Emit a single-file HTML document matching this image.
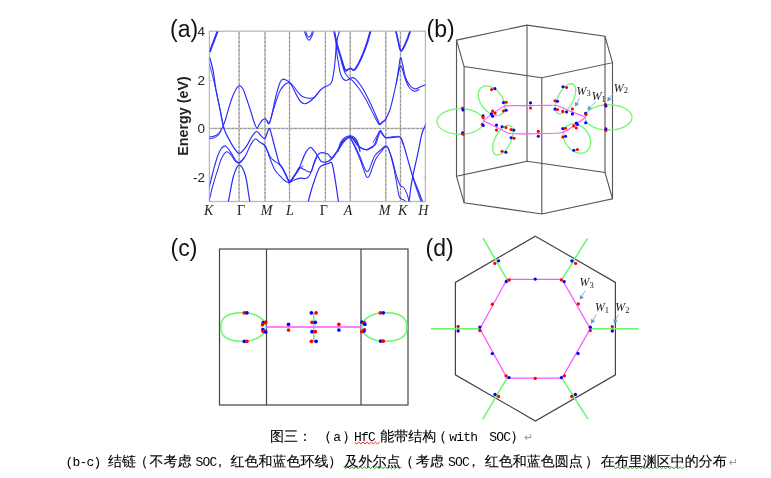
<!DOCTYPE html><html><head><meta charset="utf-8"><style>
html,body{margin:0;padding:0;background:#fff;}
body{width:771px;height:478px;overflow:hidden;position:relative;}
svg{position:absolute;left:0;top:0;}
.g0{stroke:#c0c0c0;stroke-width:1.5;}
.g{stroke:#8e8e8e;stroke-width:1;stroke-dasharray:2 2.2;}
.tl{font:13.5px "Liberation Sans",sans-serif;text-anchor:end;fill:#222;}
.yl{font:bold 14.3px "Liberation Sans",sans-serif;text-anchor:middle;fill:#222;}
.xli{font:italic 14px "Liberation Serif",serif;text-anchor:middle;fill:#222;}
.xlr{font:14px "Liberation Serif",serif;text-anchor:middle;fill:#222;}
.w{font:italic 11.8px "Liberation Serif",serif;fill:#1a1a1a;}
.ws{font-style:normal;font-size:8.5px;}
.pl{font:23px "Liberation Sans",sans-serif;fill:#111;}
.cc,.cm,.ca{position:absolute;white-space:nowrap;line-height:1;color:#000;}
.cc{font-family:"Liberation Sans","WenQuanYi Zen Hei",sans-serif;font-size:14px;-webkit-text-stroke:0.12px #000;}
.cm{font-family:"Liberation Mono",monospace;font-size:13px;letter-spacing:-0.8px;}
.ca{font-family:"DejaVu Sans",sans-serif;font-size:11px;color:#999;}
</style></head><body>
<svg width="771" height="478" viewBox="0 0 771 478">
<defs><clipPath id="ca"><rect x="209.5" y="31.5" width="216.0" height="170.0"/></clipPath></defs>
<line x1="239.1" y1="31.5" x2="239.1" y2="201.5" class="g0"/>
<line x1="239.1" y1="32.5" x2="239.1" y2="201.5" class="g"/>
<line x1="265" y1="31.5" x2="265" y2="201.5" class="g0"/>
<line x1="265" y1="32.5" x2="265" y2="201.5" class="g"/>
<line x1="289.5" y1="31.5" x2="289.5" y2="201.5" class="g0"/>
<line x1="289.5" y1="32.5" x2="289.5" y2="201.5" class="g"/>
<line x1="325.4" y1="31.5" x2="325.4" y2="201.5" class="g0"/>
<line x1="325.4" y1="32.5" x2="325.4" y2="201.5" class="g"/>
<line x1="350.2" y1="31.5" x2="350.2" y2="201.5" class="g0"/>
<line x1="350.2" y1="32.5" x2="350.2" y2="201.5" class="g"/>
<line x1="385.8" y1="31.5" x2="385.8" y2="201.5" class="g0"/>
<line x1="385.8" y1="32.5" x2="385.8" y2="201.5" class="g"/>
<line x1="400.5" y1="31.5" x2="400.5" y2="201.5" class="g0"/>
<line x1="400.5" y1="32.5" x2="400.5" y2="201.5" class="g"/>
<line x1="209.5" y1="128.4" x2="425.5" y2="128.4" class="g0"/>
<line x1="210.5" y1="128.4" x2="425.5" y2="128.4" class="g"/>
<rect x="209.4" y="31.2" width="216.0" height="170.3" fill="none" stroke="#bababa" stroke-width="1.3"/>
<line x1="209.5" y1="31.5" x2="211.5" y2="31.5" stroke="#bbb"/>
<line x1="425.5" y1="31.5" x2="423.5" y2="31.5" stroke="#bbb"/>
<line x1="209.5" y1="80.5" x2="211.5" y2="80.5" stroke="#bbb"/>
<line x1="425.5" y1="80.5" x2="423.5" y2="80.5" stroke="#bbb"/>
<line x1="209.5" y1="128.5" x2="211.5" y2="128.5" stroke="#bbb"/>
<line x1="425.5" y1="128.5" x2="423.5" y2="128.5" stroke="#bbb"/>
<line x1="209.5" y1="177.5" x2="211.5" y2="177.5" stroke="#bbb"/>
<line x1="425.5" y1="177.5" x2="423.5" y2="177.5" stroke="#bbb"/>
<g clip-path="url(#ca)" fill="none" stroke="#2a2aff" stroke-linejoin="round" stroke-linecap="round">
<path d="M209.5,51.4C209.85,50.43 210.88,47.5 211.6,45.6C212.32,43.7 213.15,41.68 213.8,40C214.45,38.32 214.93,37 215.5,35.5C216.07,34 216.73,32.25 217.2,31C217.67,29.75 218.12,28.5 218.3,28" stroke-width="1.21"/>
<path d="M210.3,51.7C210.65,50.73 211.68,47.8 212.4,45.9C213.12,44 213.95,41.98 214.6,40.3C215.25,38.62 215.73,37.3 216.3,35.8C216.87,34.3 217.53,32.55 218,31.3C218.47,30.05 218.92,28.8 219.1,28.3" stroke-width="1.21"/>
<path d="M209.6,57.3C210.02,58.83 211.45,63.88 212.1,66.5C212.75,69.12 212.85,69.08 213.5,73C214.15,76.92 214.9,83.83 216,90C217.1,96.17 218.9,104.05 220.1,110C221.3,115.95 222.22,121.78 223.2,125.7C224.18,129.62 225.07,131.3 226,133.5C226.93,135.7 227.48,136.53 228.8,138.9C230.12,141.27 232.13,145.3 233.9,147.7C235.67,150.1 237.32,153.52 239.4,153.3C241.48,153.08 244.47,148.95 246.4,146.4C248.33,143.85 249.32,140.48 251,138C252.68,135.52 254.75,131.77 256.5,131.5C258.25,131.23 260.1,135.25 261.5,136.4C262.9,137.55 263.9,139.13 264.9,138.4C265.9,137.67 266.73,133.67 267.5,132C268.27,130.33 268.82,127.9 269.5,128.4C270.18,128.9 270.57,131.28 271.6,135C272.63,138.72 274.42,146 275.7,150.7C276.98,155.4 278.25,160.42 279.3,163.2C280.35,165.98 280.87,165.3 282,167.4C283.13,169.5 284.83,173.38 286.1,175.8C287.37,178.22 288.2,181.87 289.6,181.9C291,181.93 292.88,178.35 294.5,176C296.12,173.65 297.57,171.45 299.3,167.8C301.03,164.15 303.1,157.48 304.9,154.1C306.7,150.72 308.68,148.2 310.1,147.5C311.52,146.8 312.22,148.63 313.4,149.9C314.58,151.17 315.95,153.22 317.2,155.1C318.45,156.98 319.5,160.03 320.9,161.2C322.3,162.37 324.02,162.33 325.6,162.1C327.18,161.87 328.52,161.6 330.4,159.8C332.28,158 334.8,154.27 336.9,151.3C339,148.33 340.92,144.47 343,142C345.08,139.53 347.73,137 349.4,136.5C351.07,136 351.53,137.42 353,139C354.47,140.58 356.12,144.23 358.2,146C360.28,147.77 363.53,149.27 365.5,149.6C367.47,149.93 368.48,148.85 370,148C371.52,147.15 373.35,146.42 374.6,144.5C375.85,142.58 376.58,138.82 377.5,136.5C378.42,134.18 379.18,130.93 380.1,130.6C381.02,130.27 382.03,133.32 383,134.5C383.97,135.68 384.23,137.23 385.9,137.7C387.57,138.17 390.73,137.42 393,137.3C395.27,137.18 398.03,136.63 399.5,137C400.97,137.37 401.05,138 401.8,139.5C402.55,141 403.18,143.32 404,146C404.82,148.68 405.73,152.18 406.7,155.6C407.67,159.02 408.8,162.98 409.8,166.5C410.8,170.02 411.75,173.53 412.7,176.7C413.65,179.87 414.53,182.62 415.5,185.5C416.47,188.38 417.58,191.42 418.5,194C419.42,196.58 420.25,198.83 421,201C421.75,203.17 422.67,206 423,207" stroke-width="1.21"/>
<path d="M209.3,64.2C209.35,64.37 209.42,64.65 209.6,65.2C209.78,65.75 209.97,65.95 210.4,67.5C210.83,69.05 211.52,71.75 212.2,74.5C212.88,77.25 213.7,80.58 214.5,84C215.3,87.42 216.03,90.58 217,95C217.97,99.42 219.3,105.58 220.3,110.5C221.3,115.42 222.55,122.17 223,124.5" stroke-width="0.93"/>
<path d="M331.2,160.1C332.28,158.68 335.6,154.57 337.7,151.6C339.8,148.63 341.72,144.77 343.8,142.3C345.88,139.83 348.53,137.3 350.2,136.8C351.87,136.3 352.33,137.72 353.8,139.3C355.27,140.88 356.92,144.53 359,146.3C361.08,148.07 364.33,149.57 366.3,149.9C368.27,150.23 369.28,149.15 370.8,148.3C372.32,147.45 374.15,146.72 375.4,144.8C376.65,142.88 377.38,139.12 378.3,136.8C379.22,134.48 380.47,131.88 380.9,130.9" stroke-width="0.93"/>
<path d="M207,137.3C207.42,137.25 208.5,137.13 209.5,137C210.5,136.87 211.65,136.92 213,136.5C214.35,136.08 216.27,135.58 217.6,134.5C218.93,133.42 220.07,131.47 221,130C221.93,128.53 222.37,127.7 223.2,125.7C224.03,123.7 225.17,120.62 226,118C226.83,115.38 227.2,113.33 228.2,110C229.2,106.67 230.7,101.47 232,98C233.3,94.53 234.77,91.23 236,89.2C237.23,87.17 238.23,85.83 239.4,85.8C240.57,85.77 241.73,86.63 243,89C244.27,91.37 245.67,96.17 247,100C248.33,103.83 249.83,108.33 251,112C252.17,115.67 253.02,119.3 254,122C254.98,124.7 256.07,127.7 256.9,128.2C257.73,128.7 258.15,126.28 259,125C259.85,123.72 261.02,121.52 262,120.5C262.98,119.48 264.07,118.9 264.9,118.9C265.73,118.9 266.28,119.75 267,120.5C267.72,121.25 268.37,124.48 269.2,123.4C270.03,122.32 271.03,117.9 272,114C272.97,110.1 274,104.25 275,100C276,95.75 277.08,91.58 278,88.5C278.92,85.42 279.7,83.05 280.5,81.5C281.3,79.95 281.97,79.48 282.8,79.2C283.63,78.92 284.37,79.28 285.5,79.8C286.63,80.32 288.35,80.93 289.6,82.3C290.85,83.67 291.77,85.72 293,88C294.23,90.28 295.75,93.75 297,96C298.25,98.25 299.25,100.2 300.5,101.5C301.75,102.8 303.08,103.72 304.5,103.8C305.92,103.88 307.38,103.05 309,102C310.62,100.95 312.37,99.42 314.2,97.5C316.03,95.58 318.37,92.22 320,90.5C321.63,88.78 322.75,87.98 324,87.2C325.25,86.42 326.5,86.3 327.5,85.8C328.5,85.3 329.27,84.93 330,84.2C330.73,83.47 331.35,82.93 331.9,81.4C332.45,79.87 332.88,77.3 333.3,75C333.72,72.7 334.03,70.77 334.4,67.6C334.77,64.43 335.18,59.77 335.5,56C335.82,52.23 335.92,48.17 336.3,45C336.68,41.83 337.28,39.33 337.8,37C338.32,34.67 338.95,32.83 339.4,31C339.85,29.17 340.32,26.83 340.5,26" stroke-width="1.12"/>
<path d="M207,139C207.42,138.97 208.5,138.93 209.5,138.8C210.5,138.67 211.65,138.67 213,138.2C214.35,137.73 216.27,137.2 217.6,136C218.93,134.8 220.43,131.83 221,131" stroke-width="0.93"/>
<path d="M267,121C267.37,121.4 268.28,124.73 269.2,123.4C270.12,122.07 271.28,116.9 272.5,113C273.72,109.1 275.17,103.83 276.5,100C277.83,96.17 279.08,92.58 280.5,90C281.92,87.42 283.53,85.75 285,84.5C286.47,83.25 287.97,82.33 289.3,82.5C290.63,82.67 291.72,84.08 293,85.5C294.28,86.92 295.67,89.33 297,91C298.33,92.67 299.67,94.4 301,95.5C302.33,96.6 303.57,97.15 305,97.6C306.43,98.05 308.07,98.22 309.6,98.2C311.13,98.18 312.8,98.37 314.2,97.5C315.6,96.63 317.37,93.75 318,93" stroke-width="1.02"/>
<path d="M207,194C207.42,192.7 208.5,189.87 209.5,186.2C210.5,182.53 211.75,176.7 213,172C214.25,167.3 215.67,161.83 217,158C218.33,154.17 219.58,151 221,149C222.42,147 223.98,145.6 225.5,146C227.02,146.4 228.38,148.98 230.1,151.4C231.82,153.82 234.25,158.68 235.8,160.5C237.35,162.32 237.83,162.98 239.4,162.3C240.97,161.62 243.43,159.12 245.2,156.4C246.97,153.68 248.33,148.9 250,146C251.67,143.1 253.53,139.62 255.2,139C256.87,138.38 258.42,141.23 260,142.3C261.58,143.37 263.48,144 264.7,145.4C265.92,146.8 266.35,148.77 267.3,150.7C268.25,152.63 269.18,155.27 270.4,157C271.62,158.73 273.12,159.88 274.6,161.1C276.08,162.32 277.98,163.08 279.3,164.3C280.62,165.52 281.37,166.67 282.5,168.4C283.63,170.13 284.92,172.45 286.1,174.7C287.28,176.95 288.28,181.02 289.6,181.9C290.92,182.78 292.23,180.63 294,180C295.77,179.37 298.38,178.33 300.2,178.1C302.02,177.87 303.57,178.75 304.9,178.6C306.23,178.45 307.1,178.45 308.2,177.2C309.3,175.95 310.53,173.47 311.5,171.1C312.47,168.73 313.05,165.6 314,163C314.95,160.4 316.05,157.22 317.2,155.5C318.35,153.78 319.5,153.08 320.9,152.7C322.3,152.32 324.33,152.88 325.6,153.2C326.87,153.52 327.55,153.82 328.5,154.6C329.45,155.38 330.38,157.67 331.3,157.9C332.22,158.13 333.55,156.32 334,156" stroke-width="1.12"/>
<path d="M262,143.5C262.45,143.82 263.78,144.15 264.7,145.4C265.62,146.65 266.72,149.07 267.5,151C268.28,152.93 268.73,155.08 269.4,157C270.07,158.92 270.8,160.77 271.5,162.5C272.2,164.23 272.85,165.9 273.6,167.4C274.35,168.9 275.13,170.28 276,171.5C276.87,172.72 277.88,173.7 278.8,174.7C279.72,175.7 280.63,176.62 281.5,177.5C282.37,178.38 283.17,179.3 284,180C284.83,180.7 285.72,181.28 286.5,181.7C287.28,182.12 288.03,182.45 288.7,182.5C289.37,182.55 290.2,182.08 290.5,182" stroke-width="1.02"/>
<path d="M208,205C208.25,204.07 208.67,202.73 209.5,199.4C210.33,196.07 211.65,189.9 213,185C214.35,180.1 216.18,174.42 217.6,170C219.02,165.58 220.02,161.53 221.5,158.5C222.98,155.47 224.92,152.38 226.5,151.8C228.08,151.22 229.5,153.38 231,155C232.5,156.62 234.1,160.12 235.5,161.5C236.9,162.88 237.98,163.88 239.4,163.3C240.82,162.72 243.23,158.88 244,158" stroke-width="1.02"/>
<path d="M289.6,181.9C290.42,180.75 292.88,177.35 294.5,175C296.12,172.65 297.72,168.7 299.3,167.8C300.88,166.9 302.12,168.9 304,169.6C305.88,170.3 309.03,172.7 310.6,172C312.17,171.3 312.3,168.07 313.4,165.4C314.5,162.73 316.57,157.57 317.2,156" stroke-width="1.02"/>
<path d="M288.5,183C288.78,182.87 289.12,183.45 290.2,182.2C291.28,180.95 293.4,177.73 295,175.5C296.6,173.27 298.47,170.38 299.8,168.8C301.13,167.22 302.47,166.47 303,166" stroke-width="0.93"/>
<path d="M225,215C225.57,212.67 227.07,207.17 228.4,201C229.73,194.83 231.65,183.5 233,178C234.35,172.5 235.43,170.13 236.5,168C237.57,165.87 238.4,165.2 239.4,165.2C240.4,165.2 241.4,165.87 242.5,168C243.6,170.13 244.8,172.5 246,178C247.2,183.5 248.7,195.33 249.7,201C250.7,206.67 251.62,210.17 252,212" stroke-width="1.21"/>
<path d="M305,215C305.57,212.67 307.08,206 308.4,201C309.72,196 311.12,190.47 312.9,185C314.68,179.53 317.28,171.55 319.1,168.2C320.92,164.85 322.23,165.68 323.8,164.9C325.37,164.12 327.25,163.92 328.5,163.5C329.75,163.08 330.52,161.62 331.3,162.4C332.08,163.18 332.42,164.43 333.2,168.2C333.98,171.97 335.13,179.53 336,185C336.87,190.47 337.73,196.5 338.4,201C339.07,205.5 339.73,210.17 340,212" stroke-width="1.21"/>
<path d="M303.5,26C303.67,26.83 304,29.17 304.5,31C305,32.83 305.75,35.45 306.5,37C307.25,38.55 308.17,40.3 309,40.3C309.83,40.3 310.75,38.55 311.5,37C312.25,35.45 313,32.83 313.5,31C314,29.17 314.33,26.83 314.5,26" stroke-width="1.02"/>
<path d="M303.5,23C303.67,23.83 304,26.17 304.5,28C305,29.83 305.75,32.45 306.5,34C307.25,35.55 308.17,37.3 309,37.3C309.83,37.3 310.75,35.55 311.5,34C312.25,32.45 313,29.83 313.5,28C314,26.17 314.33,23.83 314.5,23" stroke-width="1.02"/>
<path d="M333,26C333.13,26.83 333.23,28.08 333.8,31C334.37,33.92 335.37,39.33 336.4,43.5C337.43,47.67 338.6,51.57 340,56C341.4,60.43 343.55,67.85 344.8,70.1C346.05,72.35 346.63,69.78 347.5,69.5C348.37,69.22 349.25,68.4 350,68.4C350.75,68.4 351.35,69.22 352,69.5C352.65,69.78 352.9,71.02 353.9,70.1C354.9,69.18 356.48,66.85 358,64C359.52,61.15 361.5,56.67 363,53C364.5,49.33 365.82,45.67 367,42C368.18,38.33 369.35,33.67 370.1,31C370.85,28.33 371.27,26.83 371.5,26" stroke-width="1.21"/>
<path d="M333.8,26C333.93,26.83 334.03,28.08 334.6,31C335.17,33.92 336.17,39.33 337.2,43.5C338.23,47.67 339.4,51.57 340.8,56C342.2,60.43 344.35,67.85 345.6,70.1C346.85,72.35 347.43,69.78 348.3,69.5C349.17,69.22 350.05,68.4 350.8,68.4C351.55,68.4 352.15,69.22 352.8,69.5C353.45,69.78 353.7,71.02 354.7,70.1C355.7,69.18 357.28,66.85 358.8,64C360.32,61.15 362.3,56.67 363.8,53C365.3,49.33 366.62,45.67 367.8,42C368.98,38.33 370.15,33.67 370.9,31C371.65,28.33 372.07,26.83 372.3,26" stroke-width="1.12"/>
<path d="M335.8,40C335.88,40.83 336.12,42.7 336.3,45C336.48,47.3 336.53,50.8 336.9,53.8C337.27,56.8 337.95,59.87 338.5,63C339.05,66.13 339.5,70.03 340.2,72.6C340.9,75.17 341.73,77.08 342.7,78.4C343.67,79.72 344.88,80.42 346,80.5C347.12,80.58 348.35,79.38 349.4,78.9C350.45,78.42 351.32,77.6 352.3,77.6C353.28,77.6 353.83,77.5 355.3,78.9C356.77,80.3 359.32,83.42 361.1,86C362.88,88.58 364.43,91.48 366,94.4C367.57,97.32 369,100.32 370.5,103.5C372,106.68 373.75,110.67 375,113.5C376.25,116.33 377.2,118.72 378,120.5C378.8,122.28 379.05,123.98 379.8,124.2C380.55,124.42 381.55,122.63 382.5,121.8C383.45,120.97 384.33,121 385.5,119.2C386.67,117.4 388.33,114.2 389.5,111C390.67,107.8 391.27,105.17 392.5,100C393.73,94.83 395.82,85.67 396.9,80C397.98,74.33 398.38,69.73 399,66C399.62,62.27 400.02,57.93 400.6,57.6C401.18,57.27 401.7,60.72 402.5,64C403.3,67.28 404.23,73.8 405.4,77.3C406.57,80.8 408,83.07 409.5,85C411,86.93 412.82,88.48 414.4,88.9C415.98,89.32 417.27,88.15 419,87.5C420.73,86.85 423.3,85.5 424.8,85C426.3,84.5 427.47,84.58 428,84.5" stroke-width="1.12"/>
<path d="M341,60C341.23,60.87 341.82,63.23 342.4,65.2C342.98,67.17 343.62,69.87 344.5,71.8C345.38,73.73 346.75,75.62 347.7,76.8C348.65,77.98 349.22,78.07 350.2,78.9C351.18,79.73 352.05,80.07 353.6,81.8C355.15,83.53 357.55,86.5 359.5,89.3C361.45,92.1 363.63,95.73 365.3,98.6C366.97,101.47 368.05,103.68 369.5,106.5C370.95,109.32 372.67,112.92 374,115.5C375.33,118.08 376.57,120.45 377.5,122C378.43,123.55 378.77,124.75 379.6,124.8C380.43,124.85 381.43,123.18 382.5,122.3C383.57,121.42 385.42,119.97 386,119.5" stroke-width="1.02"/>
<path d="M396.2,84C396.5,82.5 397.45,77.58 398,75C398.55,72.42 399.07,70.07 399.5,68.5C399.93,66.93 400.18,65.68 400.6,65.6C401.02,65.52 401.43,66.43 402,68C402.57,69.57 403.25,72.58 404,75C404.75,77.42 405.5,80.25 406.5,82.5C407.5,84.75 408.68,87.03 410,88.5C411.32,89.97 412.9,91.13 414.4,91.3C415.9,91.47 418.23,89.8 419,89.5" stroke-width="1.02"/>
<path d="M394.5,26C394.68,26.83 395.1,28.83 395.6,31C396.1,33.17 396.88,36.25 397.5,39C398.12,41.75 398.78,45.53 399.3,47.5C399.82,49.47 400.12,50.47 400.6,50.8C401.08,51.13 401.55,50.47 402.2,49.5C402.85,48.53 403.65,46.83 404.5,45C405.35,43.17 406.4,40.83 407.3,38.5C408.2,36.17 409.2,33.08 409.9,31C410.6,28.92 411.23,26.83 411.5,26" stroke-width="1.21"/>
<path d="M395.1,26.3C395.28,27.13 395.7,29.13 396.2,31.3C396.7,33.47 397.48,36.55 398.1,39.3C398.72,42.05 399.38,45.83 399.9,47.8C400.42,49.77 400.72,50.77 401.2,51.1C401.68,51.43 402.15,50.77 402.8,49.8C403.45,48.83 404.25,47.13 405.1,45.3C405.95,43.47 407,41.13 407.9,38.8C408.8,36.47 409.8,33.38 410.5,31.3C411.2,29.22 411.83,27.13 412.1,26.3" stroke-width="1.12"/>
<path d="M338,150C338.47,148.67 339.63,144.08 340.8,142C341.97,139.92 343.42,138.53 345,137.5C346.58,136.47 348.72,135.8 350.3,135.8C351.88,135.8 353.28,136.47 354.5,137.5C355.72,138.53 356.68,139.92 357.6,142C358.52,144.08 359.6,148.67 360,150" stroke-width="1.02"/>
<path d="M338,151.6C338.47,150.27 339.63,145.68 340.8,143.6C341.97,141.52 343.42,140.13 345,139.1C346.58,138.07 348.72,137.4 350.3,137.4C351.88,137.4 353.28,138.07 354.5,139.1C355.72,140.13 356.68,141.52 357.6,143.6C358.52,145.68 359.6,150.27 360,151.6" stroke-width="1.02"/>
<path d="M349.4,136.5C350.17,137.75 352.32,140.83 354,144C355.68,147.17 358,152.08 359.5,155.5C361,158.92 362,162.08 363,164.5C364,166.92 364.78,168.82 365.5,170C366.22,171.18 366.67,171.68 367.3,171.6C367.93,171.52 368.52,171.1 369.3,169.5C370.08,167.9 371.05,164.33 372,162C372.95,159.67 373.67,157.42 375,155.5C376.33,153.58 378.1,152.08 380,150.5C381.9,148.92 384.48,144.92 386.4,146C388.32,147.08 389.8,152 391.5,157C393.2,162 395.13,171.25 396.6,176C398.07,180.75 399.08,183.55 400.3,185.5C401.52,187.45 402.8,186.35 403.9,187.7C405,189.05 406.05,191.4 406.9,193.6C407.75,195.8 408.4,198.5 409,200.9C409.6,203.3 410.25,206.82 410.5,208" stroke-width="1.02"/>
<path d="M349.4,136.5C350.33,138.33 353.18,143.58 355,147.5C356.82,151.42 358.83,156.25 360.3,160C361.77,163.75 362.85,167.37 363.8,170C364.75,172.63 365.38,174.55 366,175.8C366.62,177.05 366.95,177.47 367.5,177.5C368.05,177.53 368.5,177.58 369.3,176C370.1,174.42 371.27,170.75 372.3,168C373.33,165.25 374.13,162.08 375.5,159.5C376.87,156.92 378.57,154.63 380.5,152.5C382.43,150.37 385.15,145.22 387.1,146.7C389.05,148.18 390.73,156.03 392.2,161.4C393.67,166.77 394.8,173.3 395.9,178.9C397,184.5 397.95,191.7 398.8,195C399.65,198.3 400.15,197.83 401,198.7C401.85,199.57 402.9,199.48 403.9,200.2C404.9,200.92 406.48,202.53 407,203" stroke-width="1.02"/>
<path d="M407.5,208C407.77,206.83 408.55,204.33 409.1,201C409.65,197.67 410.2,192.05 410.8,188C411.4,183.95 412,180.37 412.7,176.7C413.4,173.03 414.22,169.52 415,166C415.78,162.48 416.68,158.93 417.4,155.6C418.12,152.27 418.72,148.97 419.3,146C419.88,143.03 420.32,140.3 420.9,137.8C421.48,135.3 422.15,132.88 422.8,131C423.45,129.12 424.1,128 424.8,126.5C425.5,125 426.63,122.75 427,122" stroke-width="1.21"/>
<path d="M412.4,175C412.58,175.58 412.77,176.58 413.5,178.5C414.23,180.42 415.73,183.83 416.8,186.5C417.87,189.17 418.95,192 419.9,194.5C420.85,197 421.73,199.42 422.5,201.5C423.27,203.58 424.17,206.08 424.5,207" stroke-width="1.02"/>
<path d="M373,142.5C373.58,141.5 375.32,138.33 376.5,136.5C377.68,134.67 379.02,131.67 380.1,131.5C381.18,131.33 382.03,134.5 383,135.5C383.97,136.5 384.23,137.3 385.9,137.5C387.57,137.7 390.73,136.87 393,136.7C395.27,136.53 398.08,136.03 399.5,136.5C400.92,136.97 400.92,138.17 401.5,139.5C402.08,140.83 402.75,143.67 403,144.5" stroke-width="0.93"/>
</g>
<text x="205" y="36.2" class="tl">4</text>
<text x="205" y="84.7" class="tl">2</text>
<text x="205" y="133.2" class="tl">0</text>
<text x="205" y="181.7" class="tl">-2</text>
<text transform="translate(187.7,116) rotate(-90)" class="yl">Energy (eV)</text>
<text x="208.75" y="215.2" class="xli">K</text>
<text x="241.15" y="215.2" class="xlr">Γ</text>
<text x="266.5" y="215.2" class="xli">M</text>
<text x="290" y="215.2" class="xli">L</text>
<text x="323.9" y="215.2" class="xlr">Γ</text>
<text x="347.95" y="215.2" class="xli">A</text>
<text x="384.6" y="215.2" class="xli">M</text>
<text x="402.7" y="215.2" class="xli">K</text>
<text x="423.25" y="215.2" class="xli">H</text>
<g fill="none" stroke="#555" stroke-width="1.1">
<path d="M456.5,40.1 L527,25.1 L605,36.3 L612.5,62.7 L541.8,77.8 L464.1,66.6Z"/>
<path d="M456.5,176.3 L527,161.3 L605,172.5 L612.5,198.9 L541.8,214 L464.1,202.8Z"/>
<line x1="456.5" y1="40.1" x2="456.5" y2="176.3"/>
<line x1="527" y1="25.1" x2="527" y2="161.3"/>
<line x1="605" y1="36.3" x2="605" y2="172.5"/>
<line x1="612.5" y1="62.7" x2="612.5" y2="198.9"/>
<line x1="541.8" y1="77.8" x2="541.8" y2="214"/>
<line x1="464.1" y1="66.6" x2="464.1" y2="202.8"/>
</g>
<g fill="none" stroke="#6ef76e" stroke-width="1.3">
<path d="M483.6,121.5 L483.51,122.61 L483.25,123.71 L482.81,124.8 L482.19,125.86 L481.42,126.89 L480.48,127.88 L479.39,128.81 L478.15,129.7 L476.78,130.52 L475.28,131.27 L473.66,131.94 L471.95,132.54 L470.15,133.06 L468.27,133.48 L466.33,133.82 L464.35,134.06 L462.33,134.2 L460.3,134.25 L458.27,134.2 L456.25,134.06 L454.27,133.82 L452.33,133.48 L450.45,133.06 L448.65,132.54 L446.94,131.94 L445.32,131.27 L443.82,130.52 L442.45,129.7 L441.21,128.81 L440.12,127.88 L439.18,126.89 L438.41,125.86 L437.79,124.8 L437.35,123.71 L437.09,122.61 L437,121.5 L437.09,120.39 L437.35,119.29 L437.79,118.2 L438.41,117.14 L439.18,116.11 L440.12,115.12 L441.21,114.19 L442.45,113.3 L443.82,112.48 L445.32,111.73 L446.94,111.06 L448.65,110.46 L450.45,109.94 L452.33,109.52 L454.27,109.18 L456.25,108.94 L458.27,108.8 L460.3,108.75 L462.33,108.8 L464.35,108.94 L466.33,109.18 L468.27,109.52 L470.15,109.94 L471.95,110.46 L473.66,111.06 L475.28,111.73 L476.78,112.48 L478.15,113.3 L479.39,114.19 L480.48,115.12 L481.42,116.11 L482.19,117.14 L482.81,118.2 L483.25,119.29 L483.51,120.39Z"/>
<path d="M632,117.4 L631.91,118.5 L631.64,119.59 L631.2,120.66 L630.59,121.71 L629.81,122.72 L628.86,123.7 L627.77,124.63 L626.53,125.5 L625.15,126.31 L623.64,127.05 L622.02,127.72 L620.3,128.31 L618.49,128.82 L616.6,129.24 L614.66,129.57 L612.66,129.81 L610.64,129.95 L608.6,130 L606.56,129.95 L604.54,129.81 L602.54,129.57 L600.6,129.24 L598.71,128.82 L596.9,128.31 L595.18,127.72 L593.56,127.05 L592.05,126.31 L590.67,125.5 L589.43,124.63 L588.34,123.7 L587.39,122.72 L586.61,121.71 L586,120.66 L585.56,119.59 L585.29,118.5 L585.2,117.4 L585.29,116.3 L585.56,115.21 L586,114.14 L586.61,113.09 L587.39,112.08 L588.34,111.1 L589.43,110.17 L590.67,109.3 L592.05,108.49 L593.56,107.75 L595.18,107.08 L596.9,106.49 L598.71,105.98 L600.6,105.56 L602.54,105.23 L604.54,104.99 L606.56,104.85 L608.6,104.8 L610.64,104.85 L612.66,104.99 L614.66,105.23 L616.6,105.56 L618.49,105.98 L620.3,106.49 L622.02,107.08 L623.64,107.75 L625.15,108.49 L626.53,109.3 L627.77,110.17 L628.86,111.1 L629.81,112.08 L630.59,113.09 L631.2,114.14 L631.64,115.21 L631.91,116.3Z"/>
<path d="M501.89,113.87 L501.11,114.4 L500.25,114.82 L499.33,115.14 L498.36,115.35 L497.33,115.44 L496.25,115.43 L495.15,115.3 L494.01,115.06 L492.86,114.71 L491.69,114.26 L490.53,113.7 L489.38,113.04 L488.24,112.29 L487.12,111.45 L486.04,110.53 L485.01,109.53 L484.02,108.47 L483.09,107.35 L482.23,106.17 L481.43,104.96 L480.72,103.71 L480.09,102.44 L479.54,101.16 L479.09,99.87 L478.73,98.59 L478.47,97.33 L478.31,96.09 L478.25,94.89 L478.29,93.73 L478.44,92.62 L478.68,91.58 L479.02,90.6 L479.46,89.7 L479.99,88.89 L480.61,88.16 L481.31,87.53 L482.09,87 L482.95,86.58 L483.87,86.26 L484.84,86.05 L485.87,85.96 L486.95,85.97 L488.05,86.1 L489.19,86.34 L490.34,86.69 L491.51,87.14 L492.67,87.7 L493.82,88.36 L494.96,89.11 L496.08,89.95 L497.16,90.87 L498.19,91.87 L499.18,92.93 L500.11,94.05 L500.97,95.23 L501.77,96.44 L502.48,97.69 L503.11,98.96 L503.66,100.24 L504.11,101.53 L504.47,102.81 L504.73,104.07 L504.89,105.31 L504.95,106.51 L504.91,107.67 L504.76,108.78 L504.52,109.82 L504.18,110.8 L503.74,111.7 L503.21,112.51 L502.59,113.24Z"/>
<path d="M572.96,84.11 L573.53,84.48 L574.04,84.95 L574.49,85.52 L574.86,86.2 L575.17,86.97 L575.4,87.83 L575.56,88.77 L575.64,89.79 L575.64,90.88 L575.57,92.03 L575.42,93.23 L575.19,94.47 L574.89,95.74 L574.52,97.04 L574.08,98.35 L573.58,99.66 L573.01,100.97 L572.39,102.26 L571.71,103.52 L570.99,104.75 L570.22,105.93 L569.42,107.05 L568.59,108.11 L567.73,109.11 L566.86,110.02 L565.98,110.85 L565.1,111.58 L564.21,112.22 L563.34,112.75 L562.48,113.18 L561.65,113.5 L560.85,113.7 L560.08,113.79 L559.35,113.77 L558.67,113.64 L558.04,113.39 L557.47,113.02 L556.96,112.55 L556.51,111.98 L556.14,111.3 L555.83,110.53 L555.6,109.67 L555.44,108.73 L555.36,107.71 L555.36,106.62 L555.43,105.47 L555.58,104.27 L555.81,103.03 L556.11,101.76 L556.48,100.46 L556.92,99.15 L557.42,97.84 L557.99,96.53 L558.61,95.24 L559.29,93.98 L560.01,92.75 L560.78,91.57 L561.58,90.45 L562.41,89.39 L563.27,88.39 L564.14,87.48 L565.02,86.65 L565.9,85.92 L566.79,85.28 L567.66,84.75 L568.52,84.32 L569.35,84 L570.15,83.8 L570.92,83.71 L571.65,83.73 L572.33,83.86Z"/>
<path d="M510.17,125.84 L510.75,126.21 L511.28,126.68 L511.74,127.26 L512.13,127.93 L512.45,128.7 L512.7,129.56 L512.88,130.49 L512.98,131.5 L513,132.58 L512.94,133.72 L512.81,134.9 L512.6,136.12 L512.32,137.38 L511.96,138.66 L511.54,139.95 L511.05,141.24 L510.5,142.52 L509.89,143.78 L509.22,145.02 L508.51,146.22 L507.75,147.38 L506.96,148.48 L506.13,149.52 L505.28,150.48 L504.42,151.37 L503.54,152.18 L502.65,152.89 L501.77,153.5 L500.89,154.02 L500.03,154.43 L499.19,154.73 L498.38,154.92 L497.6,155 L496.87,154.96 L496.17,154.82 L495.53,154.56 L494.95,154.19 L494.42,153.72 L493.96,153.14 L493.57,152.47 L493.25,151.7 L493,150.84 L492.82,149.91 L492.72,148.9 L492.7,147.82 L492.76,146.68 L492.89,145.5 L493.1,144.28 L493.38,143.02 L493.74,141.74 L494.16,140.45 L494.65,139.16 L495.2,137.88 L495.81,136.62 L496.48,135.38 L497.19,134.18 L497.95,133.02 L498.74,131.92 L499.57,130.88 L500.42,129.92 L501.28,129.03 L502.16,128.22 L503.05,127.51 L503.93,126.9 L504.81,126.38 L505.67,125.97 L506.51,125.67 L507.32,125.48 L508.1,125.4 L508.83,125.44 L509.53,125.58Z"/>
<path d="M586.87,151.13 L586,151.73 L585.07,152.23 L584.07,152.62 L583.02,152.91 L581.92,153.08 L580.79,153.15 L579.63,153.1 L578.45,152.95 L577.26,152.68 L576.06,152.31 L574.87,151.83 L573.7,151.25 L572.56,150.57 L571.44,149.8 L570.37,148.94 L569.35,148.01 L568.39,147 L567.49,145.93 L566.67,144.8 L565.93,143.62 L565.27,142.4 L564.69,141.16 L564.22,139.89 L563.84,138.62 L563.55,137.34 L563.38,136.07 L563.3,134.82 L563.33,133.6 L563.47,132.41 L563.7,131.28 L564.04,130.19 L564.48,129.17 L565.01,128.22 L565.63,127.35 L566.34,126.57 L567.13,125.87 L568,125.27 L568.93,124.77 L569.93,124.38 L570.98,124.09 L572.08,123.92 L573.21,123.85 L574.37,123.9 L575.55,124.05 L576.74,124.32 L577.94,124.69 L579.13,125.17 L580.3,125.75 L581.44,126.43 L582.56,127.2 L583.63,128.06 L584.65,128.99 L585.61,130 L586.51,131.07 L587.33,132.2 L588.07,133.38 L588.73,134.6 L589.31,135.84 L589.78,137.11 L590.16,138.38 L590.45,139.66 L590.62,140.93 L590.7,142.18 L590.67,143.4 L590.53,144.59 L590.3,145.72 L589.96,146.81 L589.52,147.83 L588.99,148.78 L588.37,149.65 L587.66,150.43Z"/>
</g>
<g fill="none" stroke="#ff5cff" stroke-width="1.15">
<path d="M483.3,120.5C484.42,119.68 487.72,117.25 490,115.6C492.28,113.95 495,111.98 497,110.6C499,109.22 500.5,108.08 502,107.3C503.5,106.52 503.83,106.18 506,105.9C508.17,105.62 511,105.65 515,105.6C519,105.55 525,105.63 530,105.6C535,105.57 540.92,105.45 545,105.4C549.08,105.35 552.17,105.17 554.5,105.3C556.83,105.43 557.25,105.58 559,106.2C560.75,106.82 562.33,107.87 565,109C567.67,110.13 571.55,111.63 575,113C578.45,114.37 583.92,116.5 585.7,117.2"/>
<path d="M483.3,120.5C484.75,121.25 489.05,123.5 492,125C494.95,126.5 498.42,128.22 501,129.5C503.58,130.78 505.5,131.98 507.5,132.7C509.5,133.42 510.08,133.6 513,133.8C515.92,134 520.5,133.93 525,133.9C529.5,133.87 535,133.7 540,133.6C545,133.5 551.42,133.43 555,133.3C558.58,133.17 559.67,133.18 561.5,132.8C563.33,132.42 564.25,131.97 566,131C567.75,130.03 569.83,128.5 572,127C574.17,125.5 576.72,123.63 579,122C581.28,120.37 584.58,118 585.7,117.2"/>
</g>
<circle cx="462.6" cy="108" r="1.55" fill="#ff0000"/>
<circle cx="463" cy="109.9" r="1.55" fill="#0000ff"/>
<circle cx="462.6" cy="132.8" r="1.55" fill="#0000ff"/>
<circle cx="463" cy="134.3" r="1.55" fill="#ff0000"/>
<circle cx="483.1" cy="115.9" r="1.55" fill="#0000ff"/>
<circle cx="483.1" cy="117.4" r="1.55" fill="#ff0000"/>
<circle cx="482.3" cy="124.4" r="1.55" fill="#ff0000"/>
<circle cx="483.3" cy="125.5" r="1.55" fill="#0000ff"/>
<circle cx="491.6" cy="89.6" r="1.55" fill="#ff0000"/>
<circle cx="494.9" cy="88.6" r="1.55" fill="#0000ff"/>
<circle cx="503.5" cy="102.6" r="1.55" fill="#0000ff"/>
<circle cx="506.2" cy="102.2" r="1.55" fill="#ff0000"/>
<circle cx="503.5" cy="111" r="1.55" fill="#ff0000"/>
<circle cx="506.2" cy="110.3" r="1.55" fill="#0000ff"/>
<circle cx="492.6" cy="111.1" r="1.55" fill="#ff0000"/>
<circle cx="495.1" cy="113.1" r="1.55" fill="#ff0000"/>
<circle cx="491.3" cy="113.9" r="1.55" fill="#0000ff"/>
<circle cx="492.6" cy="116.2" r="1.55" fill="#0000ff"/>
<circle cx="530.5" cy="102.9" r="1.55" fill="#0000ff"/>
<circle cx="530.5" cy="108" r="1.55" fill="#ff0000"/>
<circle cx="538.3" cy="131.4" r="1.55" fill="#ff0000"/>
<circle cx="538.3" cy="136.2" r="1.55" fill="#0000ff"/>
<circle cx="496.5" cy="125.1" r="1.55" fill="#0000ff"/>
<circle cx="496.5" cy="130.1" r="1.55" fill="#ff0000"/>
<circle cx="502.1" cy="126.8" r="1.55" fill="#0000ff"/>
<circle cx="505.9" cy="127.5" r="1.55" fill="#ff0000"/>
<circle cx="511.1" cy="129.6" r="1.55" fill="#ff0000"/>
<circle cx="513.9" cy="130.1" r="1.55" fill="#0000ff"/>
<circle cx="511.1" cy="137.8" r="1.55" fill="#0000ff"/>
<circle cx="514.1" cy="138.3" r="1.55" fill="#ff0000"/>
<circle cx="502.1" cy="151.3" r="1.55" fill="#ff0000"/>
<circle cx="505.9" cy="152.2" r="1.55" fill="#0000ff"/>
<circle cx="563" cy="86.7" r="1.55" fill="#0000ff"/>
<circle cx="566.6" cy="87.5" r="1.55" fill="#ff0000"/>
<circle cx="555" cy="100.8" r="1.55" fill="#ff0000"/>
<circle cx="557.5" cy="101.3" r="1.55" fill="#0000ff"/>
<circle cx="555" cy="109.1" r="1.55" fill="#0000ff"/>
<circle cx="557.5" cy="109.5" r="1.55" fill="#ff0000"/>
<circle cx="562.7" cy="111.4" r="1.55" fill="#ff0000"/>
<circle cx="566.6" cy="112" r="1.55" fill="#0000ff"/>
<circle cx="572.4" cy="108.9" r="1.55" fill="#ff0000"/>
<circle cx="572.4" cy="113.9" r="1.55" fill="#0000ff"/>
<circle cx="585.6" cy="113.3" r="1.55" fill="#0000ff"/>
<circle cx="586" cy="114.5" r="1.55" fill="#ff0000"/>
<circle cx="605.4" cy="104.3" r="1.55" fill="#ff0000"/>
<circle cx="605.9" cy="105.9" r="1.55" fill="#0000ff"/>
<circle cx="562.8" cy="128.6" r="1.55" fill="#0000ff"/>
<circle cx="565.5" cy="128.3" r="1.55" fill="#ff0000"/>
<circle cx="562.8" cy="137" r="1.55" fill="#ff0000"/>
<circle cx="565.5" cy="136.3" r="1.55" fill="#0000ff"/>
<circle cx="573.8" cy="125.9" r="1.55" fill="#ff0000"/>
<circle cx="576.3" cy="123.1" r="1.55" fill="#0000ff"/>
<circle cx="577.4" cy="124.4" r="1.55" fill="#0000ff"/>
<circle cx="576.3" cy="128" r="1.55" fill="#ff0000"/>
<circle cx="573.8" cy="150.2" r="1.55" fill="#0000ff"/>
<circle cx="577.4" cy="149.5" r="1.55" fill="#ff0000"/>
<circle cx="585.7" cy="122.8" r="1.55" fill="#0000ff"/>
<circle cx="605.9" cy="130.4" r="1.55" fill="#ff0000"/>
<circle cx="605.9" cy="128.8" r="1.55" fill="#0000ff"/>
<text x="576.6" y="94.6" class="w">W<tspan class="ws" dy="1.8">3</tspan></text>
<text x="591.7" y="99.7" class="w">W<tspan class="ws" dy="1.8">1</tspan></text>
<text x="613.8" y="91.6" class="w">W<tspan class="ws" dy="1.8">2</tspan></text>
<line x1="579.7" y1="97.6" x2="576.98" y2="103.04" stroke="#7aaee0" stroke-width="0.9"/><path d="M575.1,106.8 L574.83,101.97 L579.12,104.12Z" fill="#5b9bd5"/>
<line x1="595.6" y1="102.2" x2="590.26" y2="107.22" stroke="#7aaee0" stroke-width="0.9"/><path d="M587.2,110.1 L588.62,105.47 L591.9,108.97Z" fill="#5b9bd5"/>
<line x1="613.4" y1="93.3" x2="609.75" y2="98.06" stroke="#7aaee0" stroke-width="0.9"/><path d="M607.2,101.4 L607.85,96.61 L611.66,99.52Z" fill="#5b9bd5"/>
<g fill="none" stroke="#444" stroke-width="1.2">
<rect x="219.5" y="249" width="188.5" height="156"/>
<line x1="266.5" y1="249" x2="266.5" y2="405"/>
<line x1="361" y1="249" x2="361" y2="405"/>
</g>
<g fill="none" stroke="#6ef76e" stroke-width="1.6">
<path d="M265.8,327 L265.75,327.93 L265.61,328.86 L265.37,329.78 L265.03,330.69 L264.61,331.58 L264.09,332.45 L263.48,333.3 L262.79,334.12 L262.01,334.92 L261.15,335.67 L260.22,336.4 L259.21,337.08 L258.14,337.71 L257,338.31 L255.8,338.85 L254.55,339.34 L253.25,339.78 L251.91,340.17 L250.53,340.49 L249.12,340.76 L247.69,340.98 L246.24,341.13 L244.77,341.22 L243.3,341.25 L240.76,341.23 L238.89,341.15 L237.21,341.03 L235.67,340.86 L234.22,340.64 L232.87,340.38 L231.58,340.06 L230.38,339.7 L229.24,339.29 L228.17,338.84 L227.18,338.34 L226.25,337.8 L225.39,337.21 L224.6,336.58 L223.89,335.9 L223.25,335.18 L222.68,334.42 L222.18,333.61 L221.76,332.75 L221.42,331.83 L221.15,330.85 L220.95,329.79 L220.84,328.61 L220.8,327 L220.84,325.39 L220.95,324.21 L221.15,323.15 L221.42,322.17 L221.76,321.25 L222.18,320.39 L222.68,319.58 L223.25,318.82 L223.89,318.1 L224.6,317.42 L225.39,316.79 L226.25,316.2 L227.18,315.66 L228.17,315.16 L229.24,314.71 L230.38,314.3 L231.58,313.94 L232.87,313.62 L234.22,313.36 L235.67,313.14 L237.21,312.97 L238.89,312.85 L240.76,312.77 L243.3,312.75 L244.77,312.78 L246.24,312.87 L247.69,313.02 L249.12,313.24 L250.53,313.51 L251.91,313.83 L253.25,314.22 L254.55,314.66 L255.8,315.15 L257,315.69 L258.14,316.29 L259.21,316.92 L260.22,317.6 L261.15,318.33 L262.01,319.08 L262.79,319.88 L263.48,320.7 L264.09,321.55 L264.61,322.42 L265.03,323.31 L265.37,324.22 L265.61,325.14 L265.75,326.07Z"/>
<path d="M361.9,327 L361.95,327.93 L362.09,328.86 L362.33,329.78 L362.67,330.69 L363.09,331.58 L363.61,332.45 L364.22,333.3 L364.91,334.12 L365.69,334.92 L366.55,335.67 L367.48,336.4 L368.49,337.08 L369.56,337.71 L370.7,338.31 L371.9,338.85 L373.15,339.34 L374.45,339.78 L375.79,340.17 L377.17,340.49 L378.58,340.76 L380.01,340.98 L381.46,341.13 L382.93,341.22 L384.4,341.25 L386.94,341.23 L388.81,341.15 L390.49,341.03 L392.03,340.86 L393.48,340.64 L394.83,340.38 L396.12,340.06 L397.32,339.7 L398.46,339.29 L399.53,338.84 L400.52,338.34 L401.45,337.8 L402.31,337.21 L403.1,336.58 L403.81,335.9 L404.45,335.18 L405.02,334.42 L405.52,333.61 L405.94,332.75 L406.28,331.83 L406.55,330.85 L406.75,329.79 L406.86,328.61 L406.9,327 L406.86,325.39 L406.75,324.21 L406.55,323.15 L406.28,322.17 L405.94,321.25 L405.52,320.39 L405.02,319.58 L404.45,318.82 L403.81,318.1 L403.1,317.42 L402.31,316.79 L401.45,316.2 L400.52,315.66 L399.53,315.16 L398.46,314.71 L397.32,314.3 L396.12,313.94 L394.83,313.62 L393.48,313.36 L392.03,313.14 L390.49,312.97 L388.81,312.85 L386.94,312.77 L384.4,312.75 L382.93,312.78 L381.46,312.87 L380.01,313.02 L378.58,313.24 L377.17,313.51 L375.79,313.83 L374.45,314.22 L373.15,314.66 L371.9,315.15 L370.7,315.69 L369.56,316.29 L368.49,316.92 L367.48,317.6 L366.55,318.33 L365.69,319.08 L364.91,319.88 L364.22,320.7 L363.61,321.55 L363.09,322.42 L362.67,323.31 L362.33,324.22 L362.09,325.14 L361.95,326.07Z"/>
<line x1="313.8" y1="312.8" x2="313.8" y2="341.3"/>
</g>
<line x1="266" y1="327" x2="361.5" y2="327" stroke="#ff55ff" stroke-width="1.4"/>
<circle cx="244.3" cy="312.8" r="1.85" fill="#ff0000"/>
<circle cx="246.9" cy="312.8" r="1.85" fill="#0000ff"/>
<circle cx="244.3" cy="341.3" r="1.85" fill="#0000ff"/>
<circle cx="246.9" cy="341.3" r="1.85" fill="#ff0000"/>
<circle cx="263.3" cy="322.5" r="1.85" fill="#0000ff"/>
<circle cx="265.7" cy="322.2" r="1.85" fill="#ff0000"/>
<circle cx="262.6" cy="324.6" r="1.85" fill="#ff0000"/>
<circle cx="262.9" cy="329.6" r="1.85" fill="#0000ff"/>
<circle cx="263.3" cy="331.4" r="1.85" fill="#ff0000"/>
<circle cx="265.7" cy="331.9" r="1.85" fill="#0000ff"/>
<circle cx="288.5" cy="324.3" r="1.85" fill="#0000ff"/>
<circle cx="288.5" cy="330" r="1.85" fill="#ff0000"/>
<circle cx="311.4" cy="312.8" r="1.85" fill="#0000ff"/>
<circle cx="316.1" cy="312.8" r="1.85" fill="#ff0000"/>
<circle cx="312" cy="322.3" r="1.85" fill="#ff0000"/>
<circle cx="315.3" cy="322.3" r="1.85" fill="#0000ff"/>
<circle cx="312" cy="331.7" r="1.85" fill="#0000ff"/>
<circle cx="315.3" cy="331.7" r="1.85" fill="#ff0000"/>
<circle cx="311.4" cy="341.3" r="1.85" fill="#ff0000"/>
<circle cx="316.1" cy="341.3" r="1.85" fill="#0000ff"/>
<circle cx="338.9" cy="324.3" r="1.85" fill="#ff0000"/>
<circle cx="338.9" cy="330" r="1.85" fill="#0000ff"/>
<circle cx="361.9" cy="322" r="1.85" fill="#0000ff"/>
<circle cx="364.2" cy="322.5" r="1.85" fill="#ff0000"/>
<circle cx="364.8" cy="324.3" r="1.85" fill="#0000ff"/>
<circle cx="364.5" cy="329.8" r="1.85" fill="#ff0000"/>
<circle cx="363.7" cy="331.2" r="1.85" fill="#0000ff"/>
<circle cx="361.9" cy="331.6" r="1.85" fill="#ff0000"/>
<circle cx="380.3" cy="312.8" r="1.85" fill="#ff0000"/>
<circle cx="383.3" cy="312.8" r="1.85" fill="#0000ff"/>
<circle cx="380.6" cy="341.1" r="1.85" fill="#0000ff"/>
<circle cx="383.3" cy="341.1" r="1.85" fill="#ff0000"/>
<path d="M535.4,236.2 L615.42,282.4 L615.42,374.8 L535.4,421 L455.38,374.8 L455.38,282.4Z" fill="none" stroke="#444" stroke-width="1.2"/>
<g stroke="#6ef76e" stroke-width="1.6">
<line x1="430.9" y1="328.7" x2="479.9" y2="328.7"/>
<line x1="590.3" y1="328.7" x2="638.4" y2="328.7"/>
<line x1="507" y1="279.3" x2="483" y2="238.2"/>
<line x1="562" y1="279.3" x2="587.4" y2="238.5"/>
<line x1="507" y1="378.1" x2="482.8" y2="419.1"/>
<line x1="562" y1="378.1" x2="587.9" y2="419.1"/>
</g>
<path d="M479.9,328.7 L507,279.3 L562,279.3 L590.3,328.7 L562,378.1 L507,378.1Z" fill="none" stroke="#ff55ff" stroke-width="1.3"/>
<circle cx="494.8" cy="263.4" r="1.65" fill="#ff0000"/>
<circle cx="498.6" cy="260.8" r="1.65" fill="#0000ff"/>
<circle cx="506.3" cy="281.5" r="1.65" fill="#0000ff"/>
<circle cx="509.2" cy="280" r="1.65" fill="#ff0000"/>
<circle cx="571.9" cy="260.9" r="1.65" fill="#0000ff"/>
<circle cx="575.6" cy="263.4" r="1.65" fill="#ff0000"/>
<circle cx="561.3" cy="279.9" r="1.65" fill="#ff0000"/>
<circle cx="564.2" cy="281.6" r="1.65" fill="#0000ff"/>
<circle cx="535.2" cy="279.1" r="1.65" fill="#0000ff"/>
<circle cx="458.1" cy="326.5" r="1.65" fill="#ff0000"/>
<circle cx="458.1" cy="331" r="1.65" fill="#0000ff"/>
<circle cx="479.9" cy="327.1" r="1.65" fill="#0000ff"/>
<circle cx="479.9" cy="330.5" r="1.65" fill="#ff0000"/>
<circle cx="492.3" cy="304.2" r="1.65" fill="#ff0000"/>
<circle cx="492.3" cy="353.6" r="1.65" fill="#0000ff"/>
<circle cx="590.3" cy="327.2" r="1.65" fill="#0000ff"/>
<circle cx="590.3" cy="330.6" r="1.65" fill="#ff0000"/>
<circle cx="612.3" cy="326.6" r="1.65" fill="#ff0000"/>
<circle cx="612.3" cy="331" r="1.65" fill="#0000ff"/>
<circle cx="578.3" cy="303.9" r="1.65" fill="#ff0000"/>
<circle cx="578" cy="353.5" r="1.65" fill="#0000ff"/>
<circle cx="506.1" cy="375.8" r="1.65" fill="#ff0000"/>
<circle cx="509" cy="377.6" r="1.65" fill="#0000ff"/>
<circle cx="535.2" cy="378.4" r="1.65" fill="#ff0000"/>
<circle cx="561.4" cy="377.6" r="1.65" fill="#0000ff"/>
<circle cx="564.5" cy="375.8" r="1.65" fill="#ff0000"/>
<circle cx="495" cy="394.5" r="1.65" fill="#0000ff"/>
<circle cx="498.6" cy="396.5" r="1.65" fill="#ff0000"/>
<circle cx="571.8" cy="396.5" r="1.65" fill="#ff0000"/>
<circle cx="575.4" cy="394.5" r="1.65" fill="#0000ff"/>
<text x="579.6" y="286.3" class="w">W<tspan class="ws" dy="1.8">3</tspan></text>
<text x="594.9" y="311.1" class="w">W<tspan class="ws" dy="1.8">1</tspan></text>
<text x="615.3" y="311.1" class="w">W<tspan class="ws" dy="1.8">2</tspan></text>
<line x1="585.2" y1="290.6" x2="581.93" y2="296.18" stroke="#7aaee0" stroke-width="0.9"/><path d="M579.8,299.8 L579.86,294.96 L584,297.39Z" fill="#5b9bd5"/>
<line x1="596.3" y1="314.4" x2="593.15" y2="320.03" stroke="#7aaee0" stroke-width="0.9"/><path d="M591.1,323.7 L591.05,318.86 L595.24,321.21Z" fill="#5b9bd5"/>
<line x1="618.3" y1="314.4" x2="615.7" y2="319.9" stroke="#7aaee0" stroke-width="0.9"/><path d="M613.9,323.7 L613.53,318.88 L617.87,320.93Z" fill="#5b9bd5"/>
<text x="170" y="36.6" class="pl">(a)</text>
<text x="426.6" y="36.6" class="pl">(b)</text>
<text x="170.5" y="255.6" class="pl">(c)</text>
<text x="425.6" y="255.6" class="pl">(d)</text>
<path d="M354.7,442.1 L356.77,443.9 L358.85,442.1 L360.92,443.9 L363,442.1 L365.07,443.9 L367.15,442.1 L369.22,443.9 L371.3,442.1 L373.37,443.9 L375.45,442.1 L377.52,443.9 L379.6,442.1" fill="none" stroke="#ff2020" stroke-width="1"/>
<path d="M343.6,466.8 L345.68,468.6 L347.75,466.8 L349.82,468.6 L351.9,466.8 L353.97,468.6 L356.05,466.8 L358.12,468.6 L360.2,466.8 L362.27,468.6 L364.35,466.8 L366.42,468.6 L368.5,466.8 L370.57,468.6 L372.65,466.8 L374.72,468.6 L376.8,466.8 L378.87,468.6 L380.95,466.8 L383.02,468.6 L385.1,466.8 L387.17,468.6 L389.25,466.8 L391.32,468.6 L393.4,466.8 L395.47,468.6 L397.55,466.8 L399.62,468.6 L401.7,466.8" fill="none" stroke="#2ea02e" stroke-width="1"/>
<path d="M613.7,466.8 L615.78,468.6 L617.85,466.8 L619.93,468.6 L622,466.8 L624.08,468.6 L626.15,466.8 L628.23,468.6 L630.3,466.8 L632.38,468.6 L634.45,466.8 L636.53,468.6 L638.6,466.8 L640.68,468.6 L642.75,466.8 L644.83,468.6 L646.9,466.8 L648.98,468.6 L651.05,466.8 L653.13,468.6 L655.2,466.8 L657.28,468.6 L659.35,466.8 L661.43,468.6 L663.5,466.8 L665.58,468.6 L667.65,466.8 L669.73,468.6 L671.8,466.8 L673.88,468.6 L675.95,466.8 L678.03,468.6 L680.1,466.8 L682.18,468.6 L684.25,466.8" fill="none" stroke="#2ea02e" stroke-width="1"/>
</svg>
<div class="cc" style="left:270px;top:429px">图三：</div>
<div class="cc" style="left:317.5px;top:429px">（</div>
<div class="cm" style="left:333.3px;top:431px">a</div>
<div class="cc" style="left:342.6px;top:429px">）</div>
<div class="cm" style="left:354px;top:431px">HfC</div>
<div class="cc" style="left:380.3px;top:429px">能带结构</div>
<div class="cc" style="left:432.6px;top:429px">（</div>
<div class="cm" style="left:449.3px;top:431px">with</div>
<div class="cm" style="left:489.2px;top:431px">SOC</div>
<div class="cc" style="left:510.6px;top:429px">）</div>
<div class="ca" style="left:524.2px;top:432px">↵</div>
<div class="cm" style="left:65.5px;top:456px">(b-c)</div>
<div class="cc" style="left:108px;top:454px">结链</div>
<div class="cc" style="left:134px;top:454px">（</div>
<div class="cc" style="left:149.5px;top:454px">不考虑</div>
<div class="cm" style="left:195.6px;top:456px">SOC</div>
<div class="cc" style="left:212.9px;top:454px">，</div>
<div class="cc" style="left:230.6px;top:454px">红色和蓝色环线</div>
<div class="cc" style="left:328.3px;top:454px">）</div>
<div class="cc" style="left:344.6px;top:454px">及外尔点</div>
<div class="cc" style="left:399.6px;top:454px">（</div>
<div class="cc" style="left:415.8px;top:454px">考虑</div>
<div class="cm" style="left:448.1px;top:456px">SOC</div>
<div class="cc" style="left:466.4px;top:454px">，</div>
<div class="cc" style="left:484.7px;top:454px">红色和蓝色圆点</div>
<div class="cc" style="left:585.1px;top:454px">）</div>
<div class="cc" style="left:600.7px;top:454px">在布里渊区中的分布</div>
<div class="ca" style="left:728.9px;top:457px">↵</div>
</body></html>
